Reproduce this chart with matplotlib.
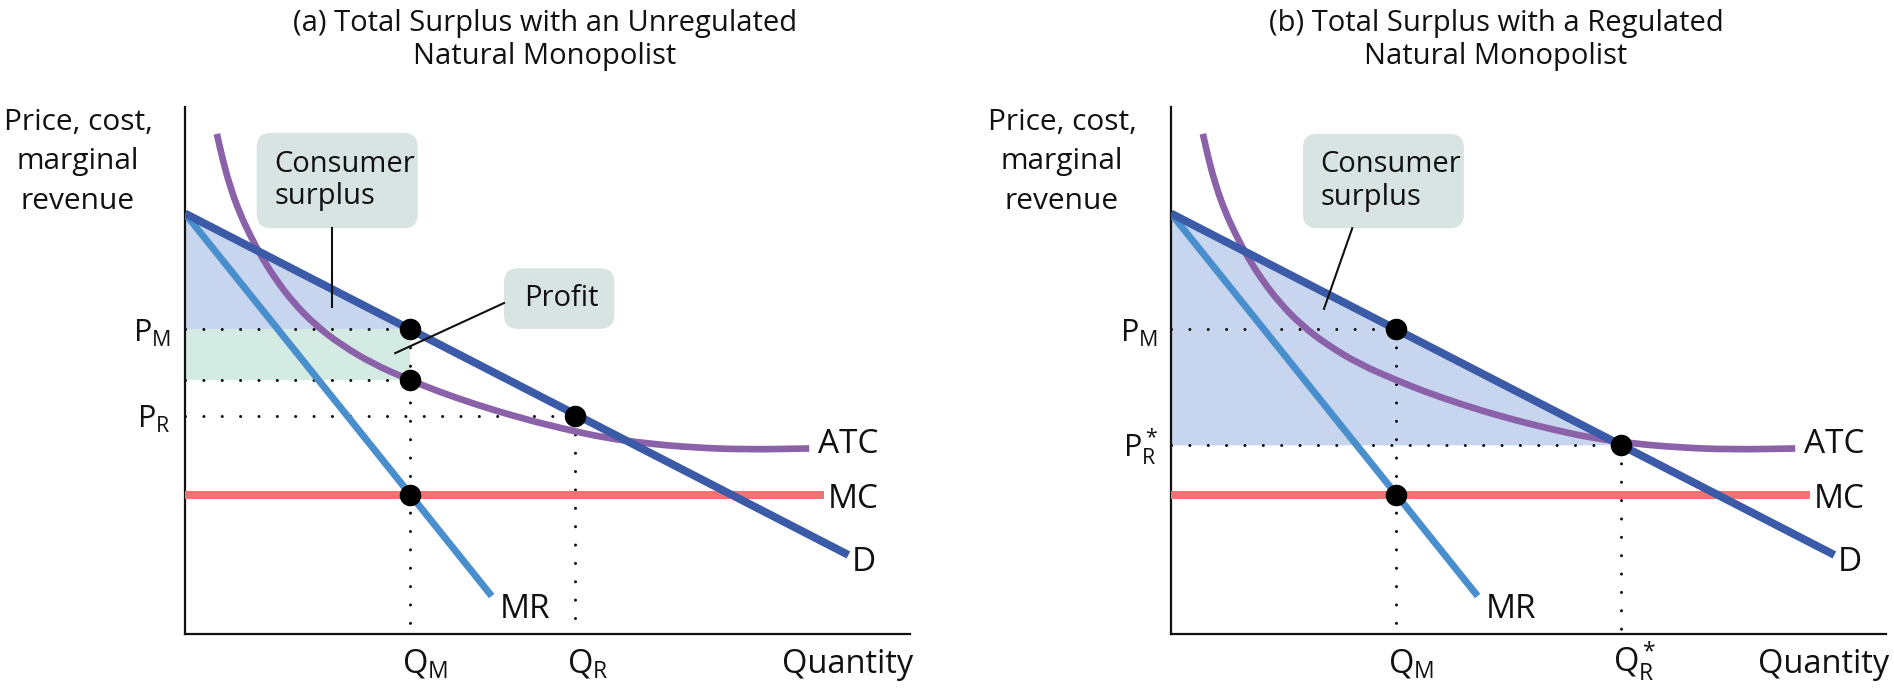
import matplotlib
matplotlib.use("Agg")
import matplotlib.pyplot as plt
from matplotlib.patches import FancyBboxPatch, PathPatch
from matplotlib.path import Path
import numpy as np

plt.rcParams['font.family'] = ['Open Sans', 'DejaVu Sans']
plt.rcParams['mathtext.fontset'] = 'custom'
plt.rcParams['mathtext.rm'] = 'Open Sans'
plt.rcParams['mathtext.it'] = 'Open Sans:italic'
plt.rcParams['mathtext.bf'] = 'Open Sans:bold'

# ---------------- data ----------------
demand_q = [0.0, 9.15]
demand_p = [7.98, 1.50]
mr_q = [0.0, 4.23]
mr_p = [7.98, 0.72]
mc_q = [0.0, 8.82]
mc_p = [2.64, 2.64]
atc_q = [0.44, 0.52, 0.62, 0.75, 0.90, 1.05, 1.25, 1.50, 1.80, 2.15, 2.60,
         3.10, 3.50, 4.00, 4.60, 5.20, 5.80, 6.40, 7.00, 7.70, 8.61]
atc_p = [9.49, 9.00, 8.50, 8.00, 7.56, 7.17, 6.73, 6.28, 5.86, 5.49, 5.12,
         4.82, 4.60, 4.36, 4.11, 3.90, 3.72, 3.61, 3.54, 3.50, 3.52]
q_m = 3.10
p_m = 5.78
atc_at_qm = 4.82
q_r = 5.38
p_r = 4.14
q_r_star = 6.21
p_r_star = 3.59

titles_a = ["(a) Total Surplus with an Unregulated", "Natural Monopolist"]
titles_b = ["(b) Total Surplus with a Regulated", "Natural Monopolist"]
ylabel_lines = ["Price, cost,", "marginal", "revenue"]

# ---------------- style ----------------
D_COLOR = '#3b5aa8'
MR_COLOR = '#4a8fcd'
ATC_COLOR = '#8b62a9'
MC_COLOR = '#f27272'
CS_FILL = '#c7d5ee'
PROFIT_FILL = '#d4ebe4'
BOX = '#d7e4e1'
INK = '#111111'

W, H = 1894, 693
fig = plt.figure(figsize=(W / 100, H / 100), dpi=100)
fig.patch.set_facecolor('white')

SX = 72.5   # px per x unit
SY = 52.7   # px per y unit
axL = fig.add_axes([185 / W, (H - 634) / H, 725 / W, 527 / H])
axR = fig.add_axes([1171 / W, (H - 634) / H, 715 / W, 527 / H])
axL.set_xlim(0, 725 / SX)
axR.set_xlim(0, 715 / SX)
for ax in (axL, axR):
    ax.set_ylim(0, 527 / SY)
    ax.set_xticks([])
    ax.set_yticks([])
    for s in ('top', 'right'):
        ax.spines[s].set_visible(False)
    for s in ('left', 'bottom'):
        ax.spines[s].set_linewidth(1.6)
        ax.spines[s].set_color(INK)
    ax.patch.set_alpha(0)

DOT_STYLE = dict(color=INK, lw=2.2, linestyle=(0, (0.01, 6)),
                 dash_capstyle='round', zorder=2)


def dotted_h(ax, x1, y):
    ax.plot([0, x1], [y, y], **DOT_STYLE)


def dotted_v(ax, x, y1):
    ax.plot([x, x], [y1, 0], **DOT_STYLE)


def smooth_path(xs, ys):
    """Quadratic-Bezier path through the read points (midpoint smoothing)."""
    pts = list(zip(xs, ys))
    verts = [pts[0]]
    codes = [Path.MOVETO]
    mids = [((pts[i][0] + pts[i + 1][0]) / 2, (pts[i][1] + pts[i + 1][1]) / 2)
            for i in range(len(pts) - 1)]
    verts.append(mids[0])
    codes.append(Path.LINETO)
    for i in range(1, len(pts) - 1):
        verts += [pts[i], mids[i]]
        codes += [Path.CURVE3, Path.CURVE3]
    verts.append(pts[-1])
    codes.append(Path.LINETO)
    return Path(verts, codes)


def curves(ax):
    ax.plot(mc_q, mc_p, color=MC_COLOR, lw=5.8, solid_capstyle='butt', zorder=3)
    ax.plot(mr_q, mr_p, color=MR_COLOR, lw=5.0, solid_capstyle='butt', zorder=3)
    ax.add_patch(PathPatch(smooth_path(atc_q, atc_p), fc='none', ec=ATC_COLOR,
                           lw=4.8, capstyle='butt', joinstyle='round', zorder=4))
    ax.plot(demand_q, demand_p, color=D_COLOR, lw=5.7, solid_capstyle='butt', zorder=5)


def dots(ax, xs, ys):
    ax.plot(xs, ys, 'o', color='black', ms=14.5, zorder=7, clip_on=False)


def rbox(ax, x0, x1, y0, y1, text, tx):
    r = 14
    p = FancyBboxPatch((x0, y0), x1 - x0, y1 - y0,
                       boxstyle=f"round,pad=0,rounding_size={r / SX}",
                       mutation_aspect=SX / SY, fc=BOX, ec='none', zorder=6,
                       clip_on=False)
    ax.add_patch(p)
    ax.text(tx, (y0 + y1) / 2, text, fontsize=21, ha='left', va='center',
            color=INK, zorder=7, linespacing=1.18)


def curve_labels(ax):
    ax.text(8.73, 3.43, "ATC", fontsize=24, ha='left', va='baseline', color=INK, clip_on=False)
    ax.text(8.87, 2.39, "MC", fontsize=24, ha='left', va='baseline', color=INK, clip_on=False)
    ax.text(9.20, 1.20, "D", fontsize=24, ha='left', va='baseline', color=INK, clip_on=False)
    ax.text(4.34, 0.30, "MR", fontsize=24, ha='left', va='baseline', color=INK, clip_on=False)
    ax.text(ax.get_xlim()[1] + 0.05, -0.74, "Quantity", fontsize=23.5, ha='right',
            va='baseline', color=INK, clip_on=False)


def fig_text(px, py, s, size, ha='center'):
    fig.text(px / W, 1 - py / H, s, fontsize=size, ha=ha, va='baseline', color=INK)


# ---------------- panel (a) ----------------
ax = axL
xs = np.array([0.0, q_m])
ax.fill_between(xs, p_m, np.interp(xs, demand_q, demand_p), color=CS_FILL, lw=0, zorder=1)
ax.fill_between(xs, atc_at_qm, p_m, color=PROFIT_FILL, lw=0, zorder=1)
dotted_h(ax, q_m, p_m)
dotted_h(ax, q_m, atc_at_qm)
dotted_h(ax, q_r, p_r)
dotted_v(ax, q_m, p_m)
dotted_v(ax, q_r, p_r)
curves(ax)
dots(ax, [q_m, q_m, q_r, q_m], [p_m, atc_at_qm, p_r, mc_p[0]])
rbox(ax, 0.99, 3.21, 7.70, 9.51, "Consumer\nsurplus", 1.23)
ax.plot([2.03, 2.03], [7.70, 6.20], color=INK, lw=1.5, zorder=6)
rbox(ax, 4.40, 5.92, 5.79, 6.94, "Profit", 4.68)
ax.plot([4.40, 2.90], [6.28, 5.33], color=INK, lw=1.5, zorder=6)
curve_labels(ax)
ax.text(-0.2, p_m - 0.23, r"$\mathregular{P_M}$", fontsize=22, ha='right', va='baseline', color=INK)
ax.text(-0.2, p_r - 0.23, r"$\mathregular{P_R}$", fontsize=22, ha='right', va='baseline', color=INK)
ax.text(q_m - 0.11, -0.74, r"$\mathregular{Q_M}$", fontsize=23.5, ha='left', va='baseline', color=INK)
ax.text(q_r - 0.11, -0.74, r"$\mathregular{Q_R}$", fontsize=23.5, ha='left', va='baseline', color=INK)

# ---------------- panel (b) ----------------
ax = axR
xs = np.array([0.0, q_r_star])
ax.fill_between(xs, p_r_star, np.interp(xs, demand_q, demand_p), color=CS_FILL, lw=0, zorder=1)
dotted_h(ax, q_m, p_m)
dotted_h(ax, q_r_star, p_r_star)
dotted_v(ax, q_m, p_m)
dotted_v(ax, q_r_star, p_r_star)
curves(ax)
dots(ax, [q_m, q_r_star, q_m], [p_m, p_r_star, mc_p[0]])
rbox(ax, 1.82, 4.04, 7.70, 9.49, "Consumer\nsurplus", 2.06)
ax.plot([2.50, 2.11], [7.70, 6.17], color=INK, lw=1.5, zorder=6)
curve_labels(ax)
ax.text(-0.18, p_m - 0.23, r"$\mathregular{P_M}$", fontsize=22, ha='right', va='baseline', color=INK)
ax.text(-0.18, p_r_star - 0.23, r"$\mathregular{P_R^*}$", fontsize=22, ha='right', va='baseline', color=INK)
ax.text(q_m - 0.11, -0.74, r"$\mathregular{Q_M}$", fontsize=23.5, ha='left', va='baseline', color=INK)
ax.text(q_r_star - 0.11, -0.74, r"$\mathregular{Q_R^*}$", fontsize=23.5, ha='left', va='baseline', color=INK)

# ---------------- titles and axis captions ----------------
fig_text(545, 31, titles_a[0], 21)
fig_text(545, 64, titles_a[1], 21)
fig_text(1496, 31, titles_b[0], 21)
fig_text(1496, 64, titles_b[1], 21)
for i, line in enumerate(ylabel_lines):
    fig_text(78, 130 + 39.5 * i, line, 21.5)
    fig_text(1062, 130 + 39.5 * i, line, 21.5)

fig.savefig("out.png", dpi=100, facecolor='white')
